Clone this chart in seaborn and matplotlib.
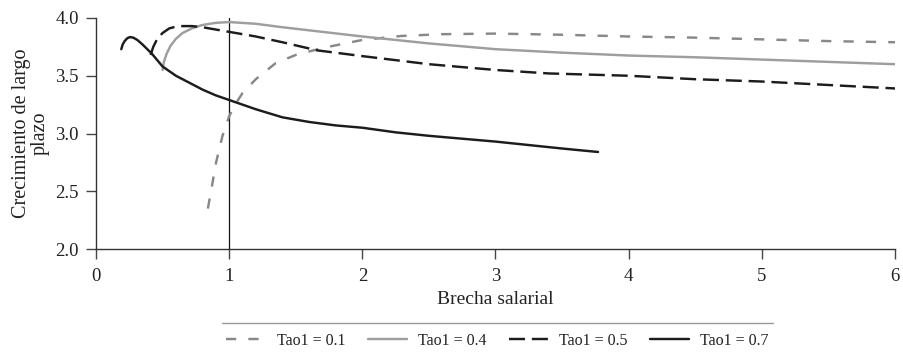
import matplotlib
matplotlib.use("Agg")
import matplotlib.pyplot as plt
from matplotlib.lines import Line2D
import numpy as np
import pandas as pd
import seaborn as sns

# Long-run growth vs. wage gap for several values of Tao1
x_t01 = [0.84, 0.87, 0.90, 0.95, 1.0, 1.05, 1.1, 1.2, 1.35, 1.5, 1.7, 2.0, 2.3, 2.6, 3.0, 3.5, 4.0, 4.5, 5.0, 5.5, 6.0]
y_t01 = [2.35, 2.54, 2.74, 2.98, 3.15, 3.26, 3.35, 3.47, 3.61, 3.68, 3.74, 3.81, 3.845, 3.86, 3.865, 3.855, 3.84, 3.83, 3.815, 3.80, 3.79]

x_t04 = [0.50, 0.51, 0.53, 0.56, 0.60, 0.65, 0.72, 0.80, 0.90, 1.0, 1.2, 1.4, 1.7, 2.0, 2.5, 3.0, 3.5, 4.0, 4.5, 5.0, 5.5, 6.0]
y_t04 = [3.55, 3.62, 3.69, 3.76, 3.82, 3.87, 3.91, 3.94, 3.958, 3.965, 3.95, 3.92, 3.88, 3.84, 3.78, 3.73, 3.70, 3.675, 3.66, 3.64, 3.62, 3.60]

x_t05 = [0.41, 0.43, 0.46, 0.50, 0.55, 0.60, 0.65, 0.72, 0.80, 0.90, 1.0, 1.2, 1.4, 1.66, 2.0, 2.5, 3.0, 3.4, 4.0, 4.5, 5.0, 5.5, 6.0]
y_t05 = [3.68, 3.75, 3.82, 3.87, 3.91, 3.925, 3.93, 3.93, 3.92, 3.90, 3.88, 3.84, 3.79, 3.72, 3.67, 3.60, 3.55, 3.52, 3.50, 3.47, 3.45, 3.42, 3.39]

x_t07 = [0.19, 0.20, 0.215, 0.235, 0.255, 0.28, 0.31, 0.35, 0.42, 0.50, 0.60, 0.70, 0.80, 0.90, 1.0, 1.2, 1.4, 1.6, 1.8, 2.0, 2.25, 2.5, 2.75, 3.0, 3.25, 3.5, 3.77]
y_t07 = [3.73, 3.77, 3.80, 3.825, 3.835, 3.83, 3.81, 3.77, 3.69, 3.58, 3.50, 3.44, 3.38, 3.33, 3.29, 3.21, 3.14, 3.10, 3.07, 3.05, 3.01, 2.98, 2.955, 2.93, 2.90, 2.87, 2.84]

series_names = ["Tao1 = 0.1", "Tao1 = 0.4", "Tao1 = 0.5", "Tao1 = 0.7"]
series_x = [x_t01, x_t04, x_t05, x_t07]
series_y = [y_t01, y_t04, y_t05, y_t07]

x_ticks = [0, 1, 2, 3, 4, 5, 6]
y_ticks = [2.0, 2.5, 3.0, 3.5, 4.0]

df = pd.concat(
    [pd.DataFrame({"Brecha salarial": xs, "Crecimiento": ys, "serie": name})
     for name, xs, ys in zip(series_names, series_x, series_y)],
    ignore_index=True,
)

sns.set_style("ticks")
plt.rcParams["font.family"] = ["Liberation Serif", "DejaVu Serif"]

palette = {"Tao1 = 0.1": "#888888", "Tao1 = 0.4": "#9e9e9e",
           "Tao1 = 0.5": "#1c1c1c", "Tao1 = 0.7": "#1c1c1c"}
dashes = {"Tao1 = 0.1": (4.2, 5.0), "Tao1 = 0.4": "",
          "Tao1 = 0.5": (6.6, 2.8), "Tao1 = 0.7": ""}
LW = 1.75

fig = plt.figure(figsize=(9.04, 3.53), dpi=100)
ax = fig.add_axes([96 / 904, 1 - 249 / 353, (895 - 96) / 904, (249 - 18) / 353])

sns.lineplot(data=df, x="Brecha salarial", y="Crecimiento", hue="serie", style="serie",
             palette=palette, dashes=dashes, hue_order=series_names, style_order=series_names,
             estimator=None, sort=False, linewidth=LW, ax=ax, legend=False)

ax.axvline(1, color="#111111", lw=0.9, zorder=1)

ax.set_xlim(0, 6)
ax.set_ylim(2.0, 4.0)
ax.set_xticks(x_ticks)
ax.set_xticklabels([str(v) for v in x_ticks])
ax.set_yticks(y_ticks)
ax.set_yticklabels([f"{v:.1f}" for v in y_ticks])

for side in ["top", "right"]:
    ax.spines[side].set_visible(False)
for side in ["left", "bottom"]:
    ax.spines[side].set_color("#333333")
    ax.spines[side].set_linewidth(1.0)
ax.tick_params(axis="both", colors="#444444", labelcolor="#222222", labelsize=13.5,
               length=7, width=1.0, direction="out")
ax.tick_params(axis="x", pad=7)
ax.tick_params(axis="y", pad=5.5)

ax.set_xlabel("Brecha salarial", fontsize=14, color="#222222", labelpad=4)
ax.set_ylabel("Crecimiento de largo\nplazo", fontsize=14.5, color="#222222",
              labelpad=4, linespacing=0.95)

# Separator above the legend
fig.add_artist(Line2D([222 / 904, 773 / 904], [1 - 323 / 353] * 2,
                      color="#999999", lw=1.0))

handles = [Line2D([], [], color=palette[n], lw=LW,
                  linestyle=(0, dashes[n]) if dashes[n] else "-")
           for n in series_names]
fig.legend(handles, series_names, loc="center", bbox_to_anchor=(497.5 / 904, 1 - 341 / 353),
           ncol=4, frameon=False, fontsize=11.5, handlelength=2.45,
           columnspacing=1.4, handletextpad=0.7, labelcolor="#222222",
           borderpad=0, borderaxespad=0)

fig.savefig("out.png", dpi=100)
